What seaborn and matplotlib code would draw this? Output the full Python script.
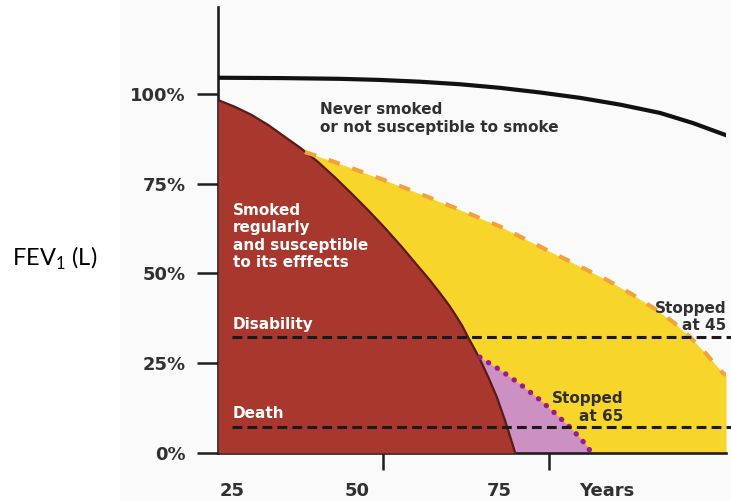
import numpy as np
import pandas as pd
import seaborn as sns
import matplotlib.pyplot as plt
from matplotlib.patches import Rectangle

# values: age (years) vs FEV1 (% of value at 25)
never_age = [23.0, 35.0, 45.7, 53.0, 60.6, 68.0, 75.5, 83.0, 90.5, 98.0, 105.4, 111.5, 117.7]
never_fev = [104.5, 104.4, 104.2, 103.9, 103.4, 102.7, 101.7, 100.4, 98.9, 97.0, 94.7, 91.9, 88.5]

smoker_age = [23.0, 26.0, 29.2, 32.4, 35.5, 38.6, 41.6, 44.7, 47.8, 51.0, 54.1, 57.2, 60.3,
              62.4, 64.4, 66.0, 67.2, 68.5, 69.6, 70.7, 71.8, 73.4, 75.0, 76.5, 78.0, 78.4]
smoker_fev = [98.3, 96.5, 94.2, 91.3, 88.0, 84.7, 81.1, 76.9, 72.4, 67.6, 62.7, 57.5, 52.0,
              48.3, 44.5, 41.3, 38.6, 35.5, 32.3, 29.3, 26.2, 21.1, 15.5, 9.1, 2.0, 0.0]

quit45_age = [39.2, 43.5, 47.8, 54.0, 60.3, 68.0, 75.7, 80.6, 88.0, 95.5, 100.2, 104.8,
              108.0, 111.0, 114.0, 117.1, 117.7]
quit45_fev = [83.8, 81.7, 79.4, 76.0, 72.4, 67.8, 63.0, 59.3, 53.8, 48.2, 44.2, 39.8,
              36.3, 32.3, 27.6, 22.3, 21.7]

quit65_age = [71.8, 75.6, 79.3, 83.0, 85.8, 88.6, 90.5, 92.0, 92.6]
quit65_fev = [26.7, 23.1, 19.2, 14.8, 11.1, 7.2, 4.2, 1.5, 0.0]

disability = 32.3
death = 7.2

ytick_vals = [0, 25, 50, 75, 100]
ytick_labels = ['0%', '25%', '50%', '75%', '100%']
xlabel_pos = [25.6, 48.9, 75.5, 95.5]
xlabels = ['25', '50', '75', 'Years']
xmarks = [53.75, 84.7]

red = '#a8372d'
yellow = '#f8d52b'
pink = '#cc90c2'
orange = '#f2a23c'
plum = '#9b1c86'
ink = '#1e1e1e'
txt = '#303030'

sns.set_theme(style="white")
plt.rcParams['font.family'] = ['DejaVu Sans']
plt.rcParams['mathtext.fontset'] = 'custom'
plt.rcParams['mathtext.rm'] = 'Lato'

fig = plt.figure(figsize=(7.31, 5.01), dpi=100)
fig.patch.set_facecolor('white')
fig.patches.append(Rectangle((120/731, 0), 1, 1, transform=fig.transFigure,
                             color='#fafafa', zorder=-10))
ax = fig.add_axes([218/731, 48/501, 508/731, 446/501])
ax.set_facecolor('none')

ax.fill_between(quit45_age, quit45_fev, 0, color=yellow, lw=0, zorder=1)
ax.fill_between(quit65_age, quit65_fev, 0, color=pink, lw=0, zorder=2)
ax.fill_between(smoker_age, smoker_fev, 0, color=red, lw=0, zorder=3)

sns.lineplot(x=smoker_age, y=smoker_fev, color='#5a1a15', lw=1.6, ax=ax, zorder=4)
ax.plot(quit45_age, quit45_fev, color=orange, lw=3, dashes=(2.8, 3.2), zorder=4)
ax.plot(quit65_age, quit65_fev, color=plum, lw=3.8, linestyle=(0, (0.05, 1.9)),
        dash_capstyle='round', zorder=4)
sns.lineplot(x=never_age, y=never_fev, color='#111111', lw=3, ax=ax, zorder=4)

for lvl in [disability, death]:
    ax.plot([25.6, 118.6], [lvl, lvl], color='#1a1a1a', lw=2.2, dashes=(3.2, 1.7),
            zorder=5, clip_on=False)

ax.set_xlim(23.0, 117.7)
ax.set_ylim(0, 124.2)

for s in ['top', 'right']:
    ax.spines[s].set_visible(False)
for s in ['left', 'bottom']:
    ax.spines[s].set_color(ink)
    ax.spines[s].set_linewidth(1.9)

ax.set_yticks(ytick_vals, ytick_labels)
ax.yaxis.get_major_ticks()[0].tick1line.set_visible(False)
ax.tick_params(axis='y', left=True, direction='out', length=15, width=1.8, color=ink,
               pad=8, labelsize=13, labelcolor=txt)

ax.set_xticks(xlabel_pos, xlabels)
ax.set_xticks(xmarks, minor=True)
ax.tick_params(axis='x', which='major', bottom=True, length=0, pad=21, labelsize=13,
               labelcolor=txt)
ax.tick_params(axis='x', which='minor', bottom=True, direction='out', length=12,
               width=1.8, color=ink)
for lab in ax.get_xticklabels() + ax.get_yticklabels():
    lab.set_fontweight('bold')

ax.text(42.0, 93.2, 'Never smoked\nor not susceptible to smoke', ha='left', va='center',
        fontsize=11, weight='bold', color=txt, zorder=6)
ax.text(25.8, 60.3, 'Smoked\nregularly\nand susceptible\nto its efffects', ha='left',
        va='center', fontsize=11, weight='bold', color='white', zorder=6)
ax.text(25.8, 35.7, 'Disability', ha='left', va='center', fontsize=11, weight='bold',
        color='white', zorder=6)
ax.text(25.8, 11.1, 'Death', ha='left', va='center', fontsize=11, weight='bold',
        color='white', zorder=6)
ax.text(117.8, 37.9, 'Stopped\nat 45', ha='right', va='center', multialignment='right',
        fontsize=11, weight='bold', color=txt, zorder=6)
ax.text(98.5, 12.7, 'Stopped\nat 65', ha='right', va='center', multialignment='right',
        fontsize=11, weight='bold', color=txt, zorder=6)

fig.text(12/731, 1 - 258/501, r'FEV$_\mathregular{1}$ (L)', ha='left', va='center',
         fontsize=17, family='Lato', color='black')

fig.savefig('out.png', dpi=100)
